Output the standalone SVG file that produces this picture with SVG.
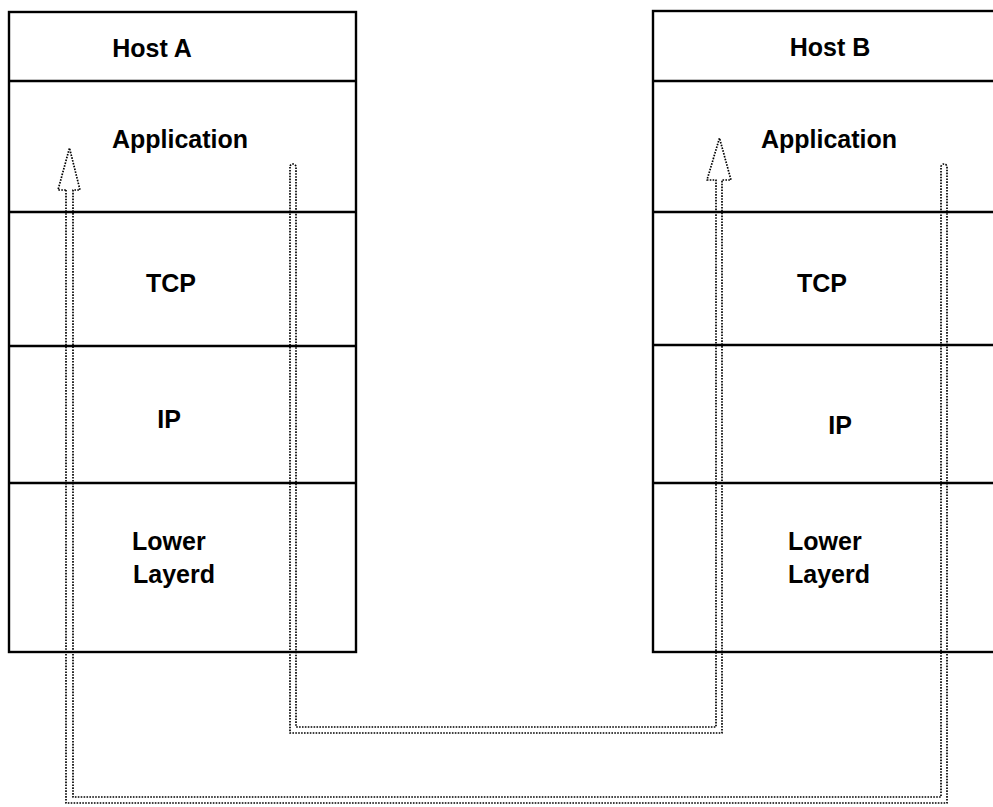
<svg xmlns="http://www.w3.org/2000/svg" width="993" height="807" viewBox="0 0 993 807">
<style>
.box{fill:#fff;stroke:#000;stroke-width:2.4}
.sep{stroke:#000;stroke-width:2.4;fill:none}
.lbl{font-family:"Liberation Sans",Arial,sans-serif;font-weight:bold;font-size:25px;fill:#000}
.dot{fill:none;stroke:#000;stroke-width:1.7;stroke-dasharray:1.6 1.3;stroke-linejoin:round}
</style>
<rect width="993" height="807" fill="#fff"/>
<g id="hostA">
  <rect class="box" x="9" y="12" width="347" height="640"/>
  <g id="hostA-header"><text class="lbl" x="152" y="57" text-anchor="middle">Host A</text></g>
  <g id="hostA-application"><line class="sep" x1="9" y1="81" x2="356" y2="81"/><text class="lbl" x="180" y="148" text-anchor="middle">Application</text></g>
  <g id="hostA-tcp"><line class="sep" x1="9" y1="212" x2="356" y2="212"/><text class="lbl" x="171" y="292" text-anchor="middle">TCP</text></g>
  <g id="hostA-ip"><line class="sep" x1="9" y1="346" x2="356" y2="346"/><text class="lbl" x="169" y="428" text-anchor="middle">IP</text></g>
  <g id="hostA-lower"><line class="sep" x1="9" y1="483" x2="356" y2="483"/><text class="lbl" x="132" y="550">Lower</text><text class="lbl" x="133" y="583">Layerd</text></g>
</g>
<g id="hostB">
  <rect class="box" x="653" y="11" width="360" height="641"/>
  <g id="hostB-header"><text class="lbl" x="830" y="56" text-anchor="middle">Host B</text></g>
  <g id="hostB-application"><line class="sep" x1="653" y1="81" x2="993" y2="81"/><text class="lbl" x="829" y="148" text-anchor="middle">Application</text></g>
  <g id="hostB-tcp"><line class="sep" x1="653" y1="212" x2="993" y2="212"/><text class="lbl" x="822" y="292" text-anchor="middle">TCP</text></g>
  <g id="hostB-ip"><line class="sep" x1="653" y1="345" x2="993" y2="345"/><text class="lbl" x="840" y="434" text-anchor="middle">IP</text></g>
  <g id="hostB-lower"><line class="sep" x1="653" y1="483" x2="993" y2="483"/><text class="lbl" x="788" y="550">Lower</text><text class="lbl" x="788" y="583">Layerd</text></g>
</g>
<g id="connectors">
  <path class="dot" d="M290,167 V733 H722 V180 H731 L719.5,138 L707,180 H716 V727 H296 V167 A3,3 0 0 0 290,167 Z"/>
  <path class="dot" d="M66,190 V803 H947 V167 A3,3 0 0 0 941,167 V797 H73 V190 H80 L69.5,148 L58,190 Z"/>
</g>
</svg>
